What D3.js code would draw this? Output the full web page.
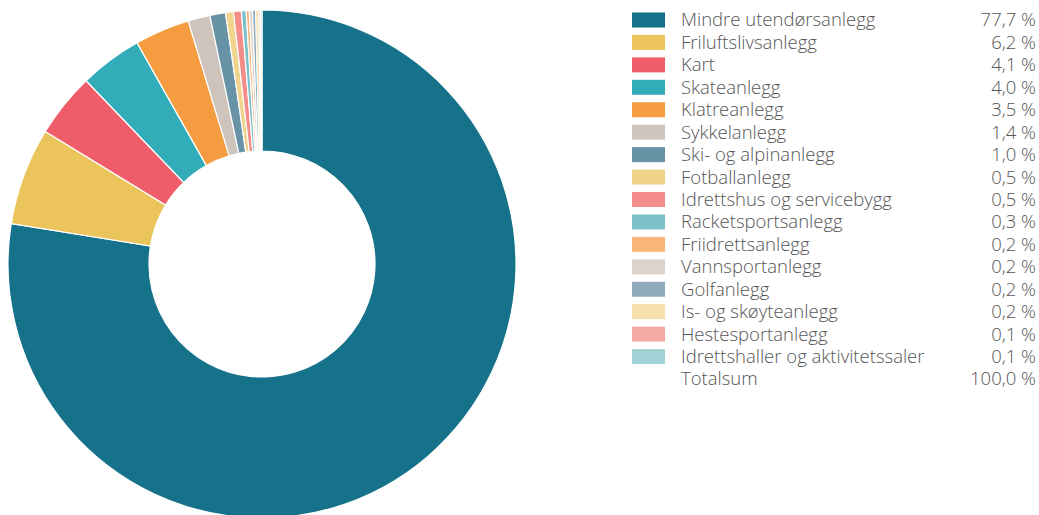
<!DOCTYPE html>
<html><head><meta charset="utf-8">
<script src="https://cdn.jsdelivr.net/npm/d3@7"></script>
<style>body{margin:0;background:#fff}svg{display:block}</style>
</head><body>
<svg id="c" width="1039" height="515"></svg>
<script>
const categories = ["Mindre utendørsanlegg","Friluftslivsanlegg","Kart","Skateanlegg","Klatreanlegg","Sykkelanlegg","Ski- og alpinanlegg","Fotballanlegg","Idrettshus og servicebygg","Racketsportsanlegg","Friidrettsanlegg","Vannsportanlegg","Golfanlegg","Is- og skøyteanlegg","Hestesportanlegg","Idrettshaller og aktivitetssaler"];
const values = [77.7,6.2,4.1,4.0,3.5,1.4,1.0,0.5,0.5,0.3,0.2,0.2,0.2,0.2,0.1,0.1];
const labels = ["77,7 %","6,2 %","4,1 %","4,0 %","3,5 %","1,4 %","1,0 %","0,5 %","0,5 %","0,3 %","0,2 %","0,2 %","0,2 %","0,2 %","0,1 %","0,1 %"];
const colors = ["#16728a","#ecc45c","#f05d6a","#33acb9","#f69c40","#cfc4bb","#6892a6","#f0d48c","#f48c8a","#7cc0c8","#f9b57a","#dcd4ca","#8eaabb","#f5dfaa","#f6aaa5","#a3d2d6"];
const totalLabel = "Totalsum";
const totalValue = "100,0 %";

const svg = d3.select("#c");
const cx = 262, cy = 264, R = 254, r = 113;
const pie = d3.pie().sort(null).value(d => d.v);
const data = categories.map((c,i)=>({c, v: values[i], col: colors[i]}));
const arc = d3.arc().innerRadius(r).outerRadius(R);
svg.append("g").attr("transform",`translate(${cx},${cy})`)
  .selectAll("path").data(pie(data)).join("path")
  .attr("d", arc).attr("fill", d=>d.data.col)
  .attr("stroke","#fff").attr("stroke-width",1.2);

const y = d3.scaleLinear().domain([0,16]).range([20, 379]);
const lg = svg.append("g").attr("font-family","'Open Sans', sans-serif").attr("font-size",18.5).attr("font-weight",300).attr("fill","#555");
const rows = data.concat([{c: totalLabel, v: null, col: null}]);
const allLabels = labels.concat([totalValue]);
rows.forEach((d,i)=>{
  const yy = y(i);
  if (d.col) lg.append("rect").attr("x",632).attr("y",yy-7.5).attr("width",33).attr("height",15).attr("fill",d.col);
  lg.append("text").attr("x",681).attr("y",yy).attr("dy","0.35em").text(d.c);
  lg.append("text").attr("x",1036).attr("y",yy).attr("dy","0.35em").attr("text-anchor","end").text(allLabels[i]);
});
</script>
</body></html>
